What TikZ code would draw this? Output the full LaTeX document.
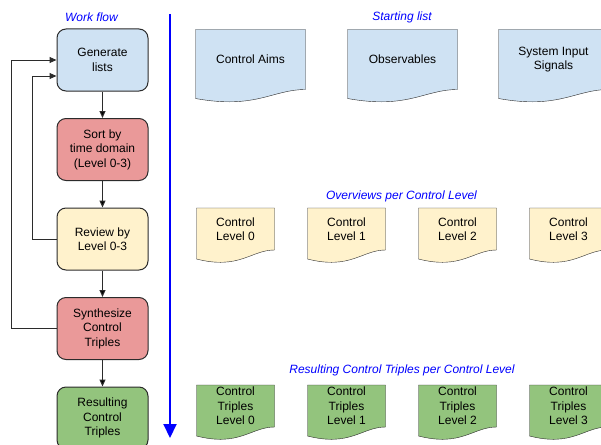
\documentclass[tikz,border=0pt]{standalone}
\usepackage{fontspec}
\setmainfont{Liberation Sans}
\usetikzlibrary{arrows.meta,positioning,calc,backgrounds}

\definecolor{listblue}{HTML}{CFE2F3}
\definecolor{sortred}{HTML}{EA9999}
\definecolor{reviewyellow}{HTML}{FFF2CC}
\definecolor{tripgreen}{HTML}{93C47D}
\definecolor{edgegray}{HTML}{2B2B2B}

\begin{document}
\begin{tikzpicture}[x=1pt,y=-1pt,>={Triangle[length=7pt,width=6pt]},
                    font=\fontsize{12}{14.5}\selectfont, line width=1pt]
	  \tikzstyle{wfbox}=[draw=edgegray,rounded corners=9pt,minimum width=91pt,minimum height=62pt,align=center,inner sep=2pt]
	  \tikzstyle{bigdoc}=[align=center,inner sep=0pt,minimum width=109pt,minimum height=59pt]
	  \tikzstyle{smalldoc}=[align=center,inner sep=0pt,minimum width=77pt,minimum height=41pt]
	  \tikzstyle{caption}=[text=blue,font=\fontsize{12}{14.5}\selectfont\itshape]
	  \tikzstyle{flow}=[->,draw=edgegray]

	  \useasboundingbox (0,0) rectangle (601,444);

	  \node[caption] (wflabel) at (91.5,17) {Work flow};
	  \node[wfbox,fill=listblue]                          (gen)    at (102.5,60) {Generate\\lists};
	  \node[wfbox,fill=sortred,below=26.5pt of gen]       (sort)   {Sort by\\time domain\\(Level 0-3)};
	  \node[wfbox,fill=reviewyellow,below=26.5pt of sort] (review) {Review by\\Level 0-3};
	  \node[wfbox,fill=sortred,below=26.5pt of review]    (synth)  {Synthesize\\Control\\Triples};
	  \node[wfbox,fill=tripgreen,below=26.5pt of synth]   (result) {Resulting\\Control\\Triples};

	  \path[flow] (gen) edge (sort)
	  (sort) edge (review)
	  (review) edge (synth)
	  (synth) edge (result);
	  \draw[flow] (review.west) -- ++(-24,0) |- ([yshift=-16pt]gen.west);
	  \draw[flow] (synth.west) -- ++(-45,0) |- (gen.west);

	  \coordinate (timetop) at (170,14);
	  \coordinate (timeend) at (170,438);
	  \draw[blue,line width=2pt,-{Triangle[length=14pt,width=13pt]}] (timetop) -- (timeend);

	  \node[caption] (startlabel) at (402,17) {Starting list};
	  \node[bigdoc]                    (aims) at (250.5,59.5) {Control Aims};
	  \node[bigdoc,right=42pt of aims] (obs)  {Observables};
	  \node[bigdoc,right=41pt of obs]  (sig)  {System Input\\Signals};

	  \node[caption] (overlabel) at (401.5,196) {Overviews per Control Level};
	  \node[smalldoc]                  (lvl0) at (235.5,229) {Control\\Level 0};
	  \node[smalldoc,right=33pt of lvl0] (lvl1) {Control\\Level 1};
	  \node[smalldoc,right=33pt of lvl1] (lvl2) {Control\\Level 2};
	  \node[smalldoc,right=33pt of lvl2] (lvl3) {Control\\Level 3};

	  \node[caption] (triplabel) at (402,370) {Resulting Control Triples per Control Level};
	  \node[smalldoc]                    (trip0) at (235.5,406) {Control\\Triples\\Level 0};
	  \node[smalldoc,right=33pt of trip0] (trip1) {Control\\Triples\\Level 1};
	  \node[smalldoc,right=33pt of trip1] (trip2) {Control\\Triples\\Level 2};
	  \node[smalldoc,right=33pt of trip2] (trip3) {Control\\Triples\\Level 3};

	  \begin{scope}[on background layer]
	    \foreach \d/\c in {aims/listblue,obs/listblue,sig/listblue,
	        lvl0/reviewyellow,lvl1/reviewyellow,lvl2/reviewyellow,lvl3/reviewyellow,
	        trip0/tripgreen,trip1/tripgreen,trip2/tripgreen,trip3/tripgreen}
	      \draw[draw=edgegray,fill=\c] (\d.north west) -- (\d.north east) -- (\d.south east)
	        .. controls ($(\d.south east)!0.3!(\d.south west)$) and ($(\d.south east)!0.45!(\d.south west)+(0,20)$)
	        .. ($(\d.south west)+(0,9)$) -- cycle;
	  \end{scope}
\end{tikzpicture}
\end{document}
